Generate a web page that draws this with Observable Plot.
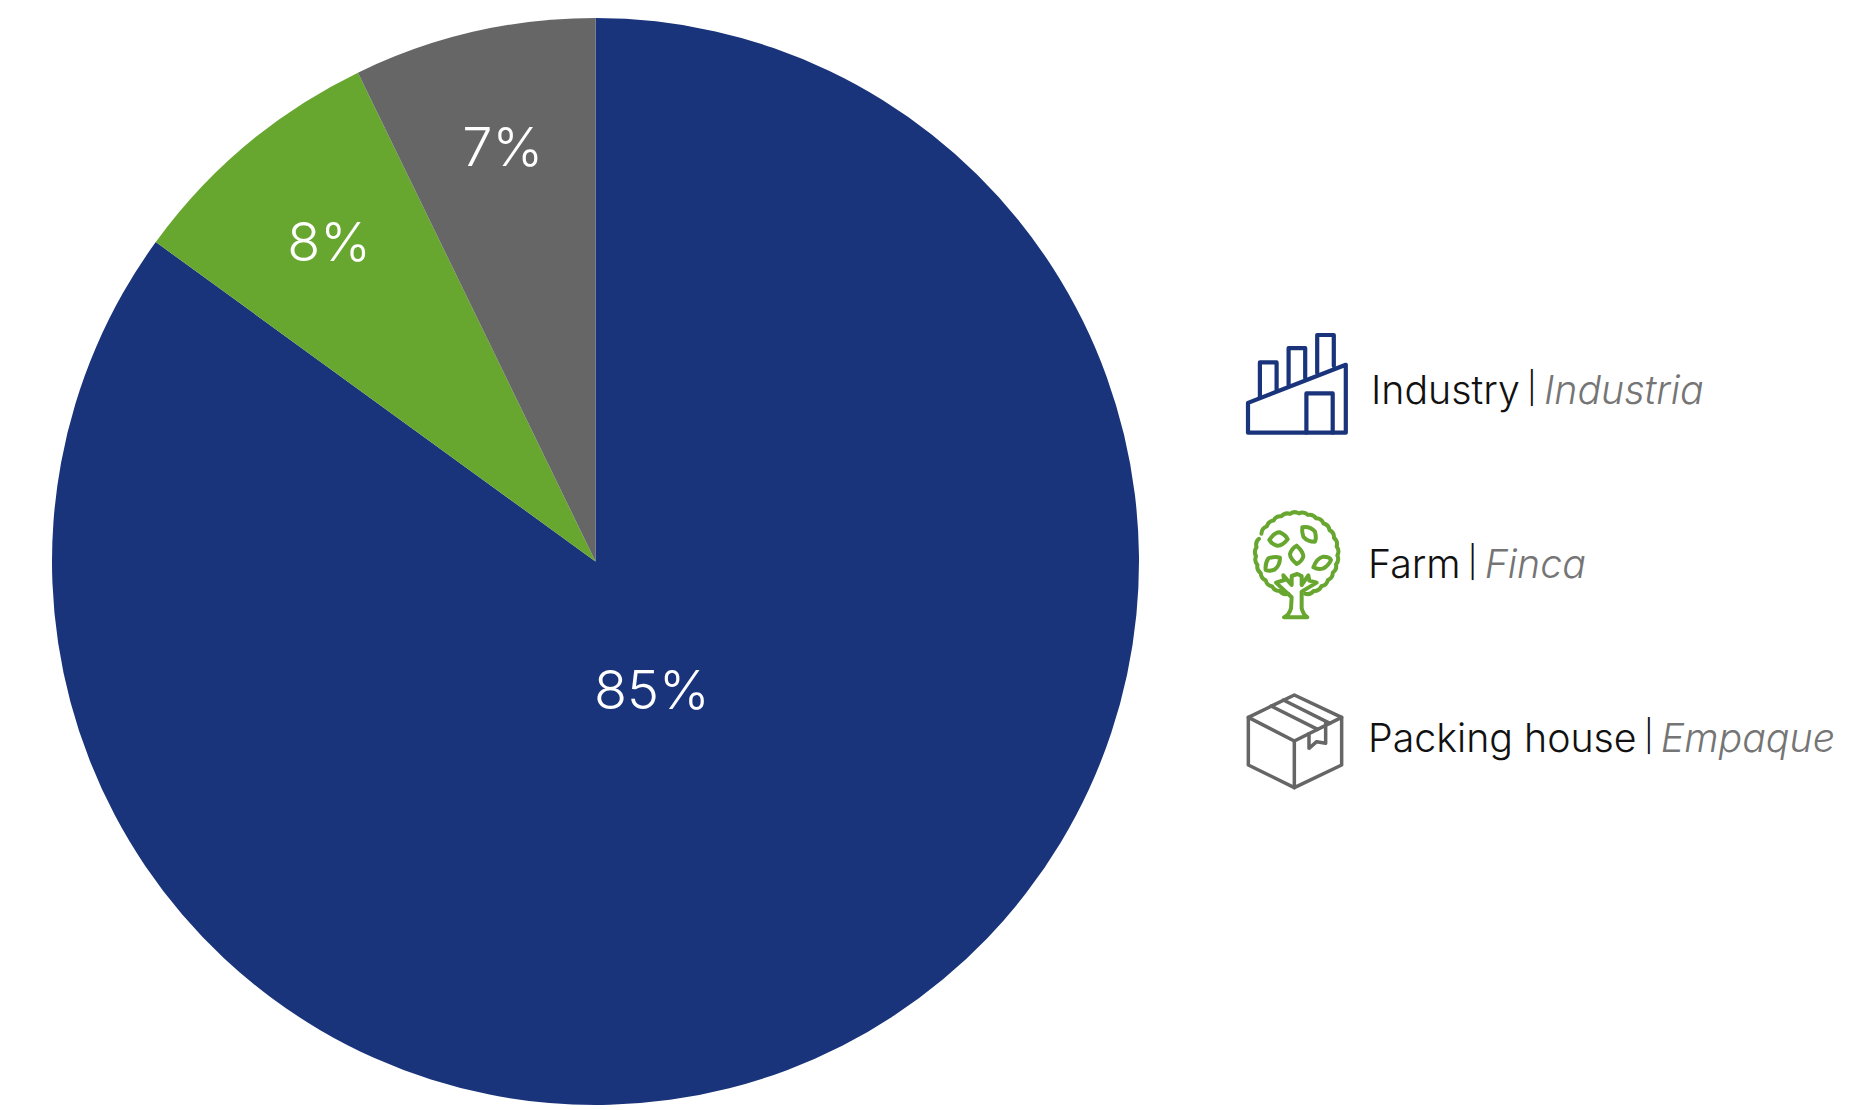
<!DOCTYPE html>
<html><head><meta charset="utf-8">
<script src="https://cdn.jsdelivr.net/npm/d3@7"></script>
<script src="https://cdn.jsdelivr.net/npm/@observablehq/plot@0.6"></script>
<style>html,body{margin:0;padding:0;background:#fff}svg{display:block}</style>
</head><body><div id="chart"></div>
<script>
const names = ["Industry", "Farm", "Packing house"];
const translations = ["Industria", "Finca", "Empaque"];
const shares = [85, 7.8, 7.2];
const labels = ["85%", "8%", "7%"];
const colors = ["#1a347b", "#67a62f", "#666666"];

const FONT = "Inter, sans-serif";
const angle = d3.pie().sort(null).value(d => d)(shares);
const rows = names.map((name, i) => ({
  name, share: shares[i], label: labels[i],
  translation: translations[i],
  start: angle[i].startAngle, end: angle[i].endAngle, mid: (angle[i].startAngle + angle[i].endAngle) / 2
}));
const labelRadius = {Industry: 0.26, Farm: 0.765, "Packing house": 0.78};
const midOffset = {Industry: 0.066, Farm: 0, "Packing house": 0.004};

const sliceMark = Plot.dot(rows, {
  x: rows.map(() => 0), y: rows.map(() => 0), fill: "name",
  render(index, scales, values) {
    const R = scales.x(1) - scales.x(0);
    const arc = d3.arc().innerRadius(0).outerRadius(R);
    const g = d3.create("svg:g");
    for (const i of index) {
      g.append("path")
        .attr("transform", `translate(${values.x[i]},${values.y[i]})`)
        .attr("d", arc({startAngle: rows[i].start, endAngle: rows[i].end}))
        .attr("fill", values.fill[i]);
    }
    return g.node();
  }
});

const labelMark = Plot.text(rows, {
  x: d => labelRadius[d.name] * Math.sin(d.mid + midOffset[d.name]),
  y: d => labelRadius[d.name] * Math.cos(d.mid + midOffset[d.name]),
  text: "label", fill: "white", fontSize: 54, fontWeight: 300, fontFamily: FONT
});

const s = 1.192;
const scaled = p => p.replace(/(-?\d+(?:\.\d+)?),(-?\d+(?:\.\d+)?)/g, (m, x, y) => `${(+x * s).toFixed(1)},${(+y * s).toFixed(1)}`);

function scallop(cx, cy, R, a0, a1, n, r) {
  let d = "";
  for (let k = 0; k <= n; k++) {
    const a = (a0 + (a1 - a0) * k / n) * Math.PI / 180;
    const x = cx + R * Math.sin(a), y = cy - R * Math.cos(a);
    d += k === 0 ? `M${x.toFixed(1)},${y.toFixed(1)}` : ` A${r},${r} 0 0 1 ${x.toFixed(1)},${y.toFixed(1)}`;
  }
  return d;
}

const factory = [
  "M1047,338 L1129,306 L1129,363 L1047,363 Z",
  "M1096,363 L1096,330 L1118,330 L1118,363",
  "M1057,333 L1057,304 L1071,304 L1071,327",
  "M1081,323 L1081,292 L1095,292 L1095,317",
  "M1105,313 L1105,281 L1119,281 L1119,307"
].map(scaled);

const tree = [
  scallop(230, 192, 122, -60, 168, 18, 24),
  scallop(230, 192, 122, 192, 292, 8, 24),
  "M168,278 L193,270 L190,256 L215,285 L215,258 L232,252 L245,258 L245,285 L265,256 L268,272 L290,278 L245,305 L245,355 Q250,375 262,382 L192,382 Q208,375 213,355 L215,322 Z",
  "M148,150 Q165,125 180,127 Q198,135 203,148 Q185,170 170,167 Q155,162 148,150 Z",
  "M247,112 Q270,108 285,125 Q290,145 285,155 Q262,155 250,140 Q245,125 247,112 Z",
  "M230,167 Q250,185 250,200 Q245,215 230,222 Q210,205 210,192 Q215,175 230,167 Z",
  "M145,205 Q165,198 180,203 Q180,225 165,238 Q150,245 137,240 Q135,220 145,205 Z",
  "M280,232 Q290,205 310,200 Q330,200 333,210 Q325,228 310,235 Q295,240 280,232 Z"
];

const box = [
  "M178,30 L320,97 L320,240 L178,308 L40,240 L40,97 Z",
  "M40,97 L178,168 L320,97",
  "M178,168 L178,308",
  "M108,63 L248,133",
  "M145,45 L285,115",
  "M222,146 L222,190 L245,170 L272,175 L272,115"
];

const iconSets = [
  {paths: factory, stroke: colors[0], w: 4.2, tf: ""},
  {paths: tree, stroke: colors[1], w: 12, tf: "translate(1220,490) scale(0.3333)"},
  {paths: box, stroke: colors[2], w: 10.5, tf: "translate(1235,685) scale(0.3333)"}
];
const legendAt = [
  {x: 1371, y: 404}, {x: 1368, y: 578}, {x: 1368, y: 752}
];

function legendMark(index, scales, values, dims) {
  const g = d3.create("svg:g");
  iconSets.forEach(set => {
    const ig = g.append("g").attr("transform", set.tf).attr("fill", "none")
      .attr("stroke", set.stroke).attr("stroke-linejoin", "round").attr("stroke-linecap", "round")
      .attr("stroke-width", set.w);
    set.paths.forEach(p => ig.append("path").attr("d", p));
  });
  rows.forEach((d, i) => {
    const t = g.append("text").attr("x", legendAt[i].x).attr("y", legendAt[i].y)
      .attr("text-anchor", "start")
      .attr("font-family", FONT).attr("font-size", 39.3).attr("font-weight", 300).attr("fill", "#111");
    t.append("tspan").text(d.name);
    t.append("tspan").attr("font-size", 31).attr("dy", -5).attr("word-spacing", "-1.5px").text(" | ");
    t.append("tspan").attr("font-style", "italic").attr("dy", 5).attr("fill", "#757575").text(d.translation);
  });
  return g.node();
}

const chart = Plot.plot({
  width: 1869, height: 1110,
  marginLeft: 52, marginRight: 730, marginTop: 18, marginBottom: 5,
  x: {domain: [-1, 1], axis: null},
  y: {domain: [-1, 1], axis: null},
  color: {domain: names, range: colors},
  marks: [sliceMark, labelMark, legendMark]
});
document.getElementById("chart").append(chart);
</script></body></html>
